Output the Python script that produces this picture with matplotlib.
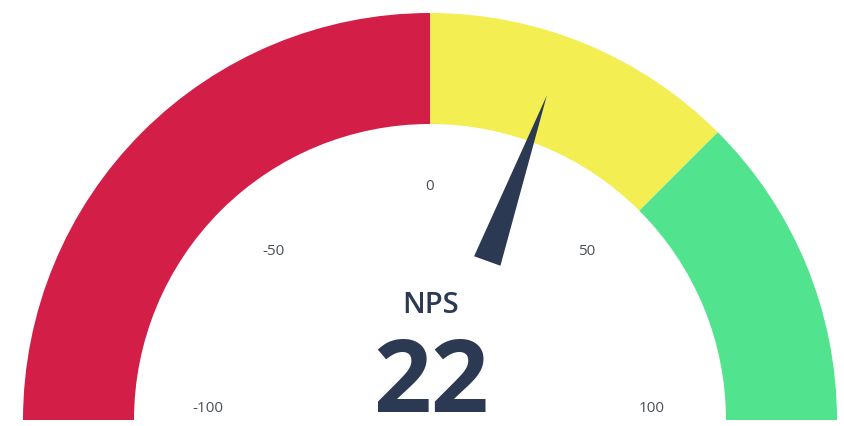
import matplotlib

matplotlib.use("Agg")
import matplotlib.pyplot as plt
import numpy as np
from matplotlib.patches import Wedge, Polygon

# gauge data
band_edges = [-100, 0, 50, 100]
band_colors = ["#D31E47", "#F3EE52", "#52E38E"]
tick_values = [-100, -50, 0, 50, 100]
score = 22
title = "NPS"

v_min, v_max = band_edges[0], band_edges[-1]
center = (430, 6)
r_outer, r_inner = 407, 296
ink = "#2B3A52"


def to_angle(v):
    return 180.0 - (v - v_min) / (v_max - v_min) * 180.0


fig = plt.figure(figsize=(8.45, 4.26), dpi=100)
ax = fig.add_axes([0, 0, 1, 1])
ax.set_xlim(0, 845)
ax.set_ylim(0, 426)
ax.axis("off")

for lo, hi, col in zip(band_edges[:-1], band_edges[1:], band_colors):
    ax.add_patch(Wedge(center, r_outer, to_angle(hi), to_angle(lo),
                       width=r_outer - r_inner, facecolor=col, edgecolor="none"))

for t in tick_values:
    a = np.radians(to_angle(t))
    x = center[0] + 222 * np.cos(a)
    y = center[1] + 222 * np.sin(a) + 12
    ax.text(x, y, f"{t}", ha="center", va="center", fontsize=11,
            color="#4A4F5A", family="Open Sans")

# needle
a = np.radians(to_angle(score))
d = np.array([np.cos(a), np.sin(a)])
n = np.array([-d[1], d[0]])
c = np.array(center)
tip = c + 345 * d
base = c + 169 * d
ax.add_patch(Polygon([tip, base + 14 * n, base - 14 * n], closed=True,
                     facecolor=ink, edgecolor="none"))

ax.text(center[0] + 1, 113, title, ha="center", va="baseline", fontsize=21,
        color=ink, family="Open Sans", fontweight="semibold")
ax.text(center[0] + 1, 14, f"{score}", ha="center", va="baseline", fontsize=73,
        color=ink, family="Open Sans", fontweight="bold")

fig.savefig("out.png", dpi=100)
